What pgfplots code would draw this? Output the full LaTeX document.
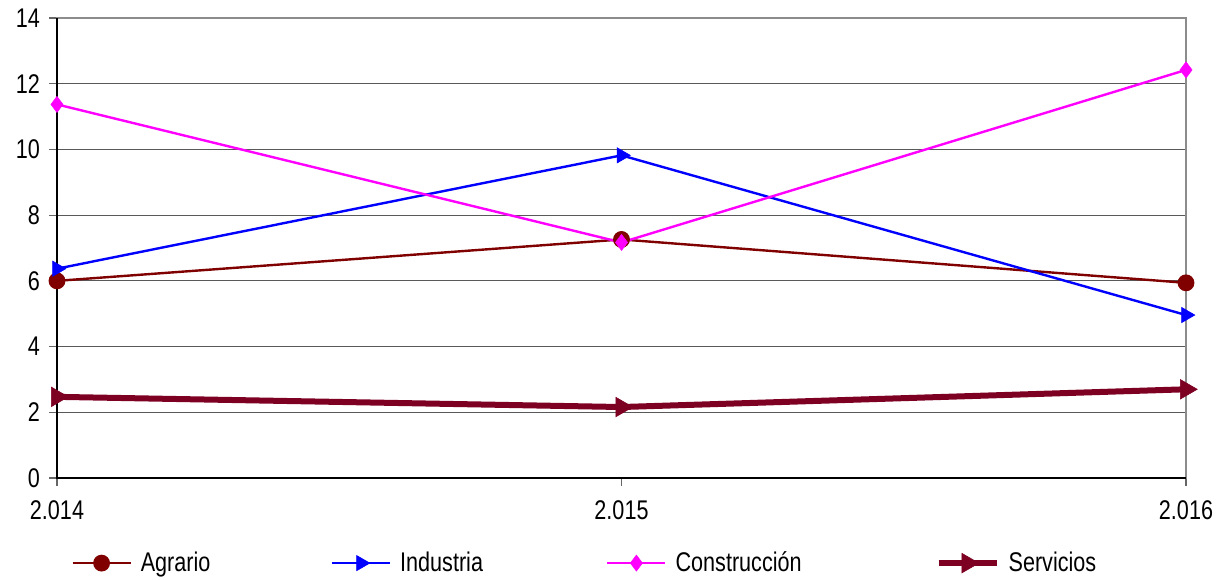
\documentclass[border=0pt]{standalone}
\usepackage{fontspec}
\setmainfont{Liberation Sans}[FakeStretch=0.8]
\usepackage{pgfplots}
\pgfplotsset{compat=1.18}
\definecolor{agr}{RGB}{128,0,0}
\definecolor{ind}{RGB}{0,0,255}
\definecolor{con}{RGB}{255,0,255}
\definecolor{ser}{RGB}{125,0,35}
\begin{document}
\begin{tikzpicture}
\begin{axis}[
  scale only axis,
  width=564.5pt, height=230pt,
  xmin=2014, xmax=2016, ymin=0, ymax=14,
  xtick={2014,2015,2016},
  xticklabels={2.014,2.015,2.016},
  ytick={0,2,...,14},
  xtick pos=bottom, ytick pos=left,
  tick align=outside,
  major tick length=4pt,
  tick style={draw=black!60, line width=0.6pt},
  ymajorgrids,
  grid style={draw=black!65, line width=0.5pt},
  axis line style={draw=black!45, line width=1pt},
  /pgf/number format/assume math mode=true,
  font=\fontsize{13}{15}\selectfont,
  ticklabel style={font=\fontsize{13.5}{15}\selectfont},
  xticklabel style={yshift=-4pt},
  yticklabel style={xshift=-1pt},
  clip=false,
  legend columns=4,
  legend style={at={(0.0,-0.185)}, anchor=west, draw=none, inner sep=1pt, xshift=6pt,
    /tikz/every odd column/.append style={column sep=2.5pt},
    /tikz/every even column/.append style={column sep=0pt},
    font=\fontsize{13.5}{15}\selectfont},
  legend cell align=left,
  legend image code/.code={\draw[mark repeat=2,mark phase=2] plot coordinates {(0pt,0pt)(14.5pt,0pt)(29pt,0pt)};},
]
\addplot[agr, line width=1.2pt, mark=*, mark size=3.6pt, mark options={fill=agr, draw=agr, solid}]
  coordinates {(2014,6.0) (2015,7.26) (2016,5.94)};
\addlegendentry{\makebox[93pt][l]{Agrario}}
\addplot[ind, line width=1.2pt, mark=triangle*, mark size=4.4pt, mark options={fill=ind, draw=ind, rotate=-90, line width=0.3pt}]
  coordinates {(2014,6.37) (2015,9.82) (2016,4.96)};
\addlegendentry{\makebox[101pt][l]{Industria}}
\addplot[con, line width=1.2pt, mark=diamond*, mark size=4pt, mark options={fill=con, draw=con, line width=0.3pt}]
  coordinates {(2014,11.37) (2015,7.17) (2016,12.42)};
\addlegendentry{\makebox[128pt][l]{Construcción}}
\addplot[ser, line width=3pt, mark=triangle*, mark size=5.6pt, mark options={fill=ser, draw=ser, rotate=-90, line width=0.3pt}]
  coordinates {(2014,2.47) (2015,2.16) (2016,2.70)};
\addlegendentry{Servicios}
\draw[black, line width=1.1pt] (rel axis cs:0,1) -- (rel axis cs:0,0) -- (rel axis cs:1,0);
\coordinate (O) at (rel axis cs:0,0);
\end{axis}
\pgfresetboundingbox
\path ([shift={(-28.5pt,-50.5pt)}]O) rectangle ++(608pt,289.5pt);
\end{tikzpicture}
\end{document}
